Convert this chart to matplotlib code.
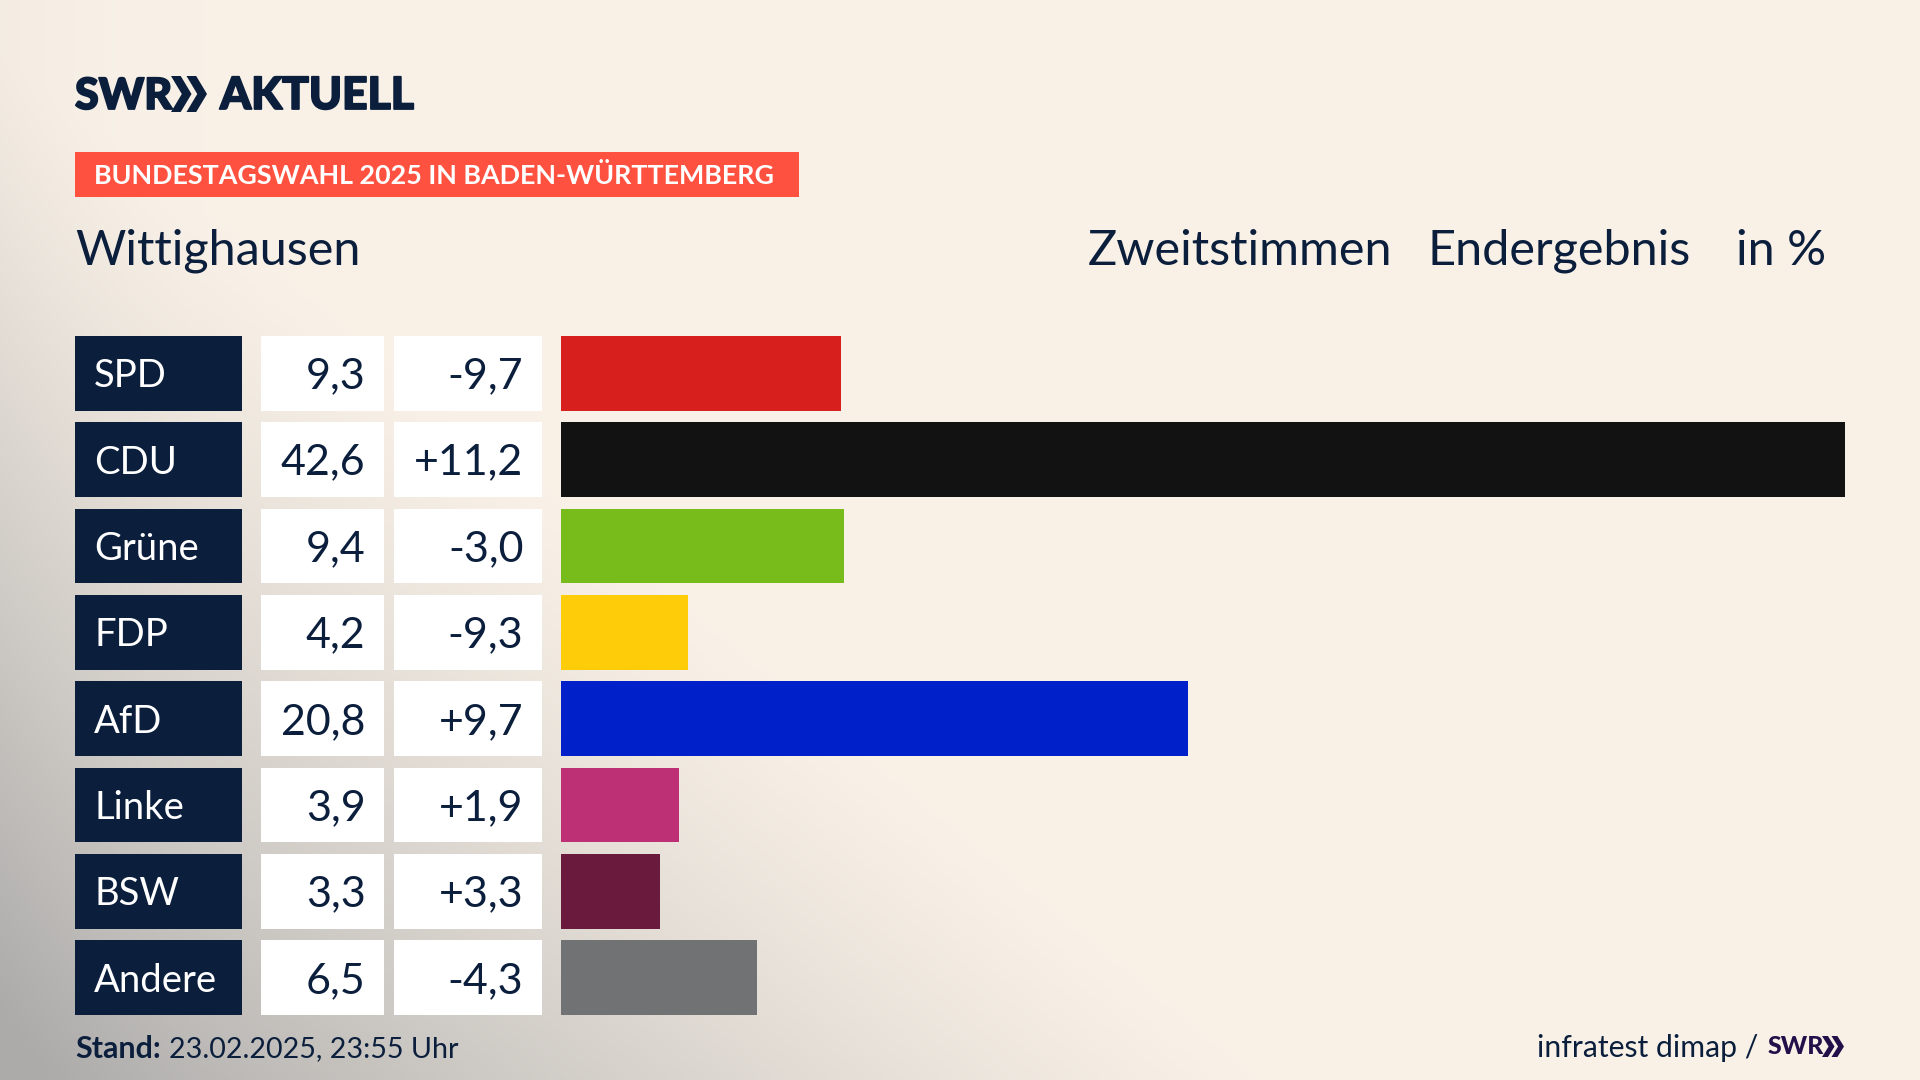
import numpy as np
import matplotlib
matplotlib.use("Agg")
import matplotlib.pyplot as plt
from matplotlib.patches import Rectangle, Polygon
import matplotlib.patheffects as pe

parties = ["SPD", "CDU", "Grüne", "FDP", "AfD", "Linke", "BSW", "Andere"]
shares = [9.3, 42.6, 9.4, 4.2, 20.8, 3.9, 3.3, 6.5]
share_labels = ["9,3", "42,6", "9,4", "4,2", "20,8", "3,9", "3,3", "6,5"]
diff_labels = ["-9,7", "+11,2", "-3,0", "-9,3", "+9,7", "+1,9", "+3,3", "-4,3"]
colors = ["#D71F1D", "#121212", "#78BC1B", "#FFCC09", "#0021C9", "#BD3075", "#691A3D", "#717274"]

NAVY = "#0B1F3D"
FONT = "Lato"
W, H = 1920, 1080
fig = plt.figure(figsize=(19.2, 10.8), dpi=100)

# background
bg = fig.add_axes([0, 0, 1, 1], zorder=0)
yy, xx = np.mgrid[0:H:270j, 0:W:480j]
cream = np.array([249, 241, 231]) / 255
grey = np.array([172, 171, 170]) / 255
s = np.clip(1 - xx / 1250 - (H - yy) / 1030, 0, 1)
t = s ** 1.15
left = np.clip(1 - xx / 200, 0, 1) ** 2 * 0.07
t = np.clip(t + left, 0, 1)[..., None]
bg.imshow(cream * (1 - t) + grey * t, extent=[0, W, H, 0], aspect="auto", interpolation="bilinear")
bg.set_xlim(0, W); bg.set_ylim(H, 0); bg.axis("off")

# pixel overlay
ov = fig.add_axes([0, 0, 1, 1], zorder=1)
ov.set_xlim(0, W); ov.set_ylim(H, 0); ov.axis("off"); ov.patch.set_alpha(0)

def chevrons(x, y, h, width, color):
    thick = width * 0.27
    tip = width * 0.57
    off = width - tip
    for k in range(2):
        x0 = x + k * off
        ov.add_patch(Polygon([(x0, y), (x0 + thick, y), (x0 + tip, y + h / 2),
                              (x0 + thick, y + h), (x0, y + h), (x0 + tip - thick, y + h / 2)],
                             closed=True, fc=color, ec="none"))

bold_fx = [pe.withStroke(linewidth=1.3, foreground=NAVY)]
# logo
ov.text(75, 96, "SWR", fontsize=31, fontweight="black", family="Lato", color=NAVY, va="center", ha="left", path_effects=bold_fx)
chevrons(171, 76, 36, 36, NAVY)
ov.text(220, 96, "AKTUELL", fontsize=32, fontweight="black", family="Lato", color=NAVY, va="center", ha="left", path_effects=bold_fx)

# banner
ov.add_patch(Rectangle((75, 152), 724, 45, fc="#FF513F", ec="none"))
ov.text(94, 176, "BUNDESTAGSWAHL 2025 IN BADEN-WÜRTTEMBERG", fontsize=19.4, fontweight="bold",
        family=FONT, color="white", va="center", ha="left")

# header
hdr = dict(fontsize=35, family=FONT, color=NAVY, va="center")
ov.text(75, 251, "Wittighausen", ha="left", **hdr)
ov.text(1088, 251, "Zweitstimmen", ha="left", **hdr)
ov.text(1427, 251, "Endergebnis", ha="left", **hdr)
ov.text(1826, 251, "in %", ha="right", **hdr)

# rows
n = len(parties)
top, pitch, rh = 336.0, 86.35, 74.7
for i in range(n):
    y = top + i * pitch
    ov.add_patch(Rectangle((75, y), 167, rh, fc=NAVY, ec="none"))
    ov.add_patch(Rectangle((261, y), 123, rh, fc="white", ec="none"))
    ov.add_patch(Rectangle((394, y), 148, rh, fc="white", ec="none"))
    cy = y + rh / 2 + 3
    ov.text(94, cy, parties[i], fontsize=27.5, family=FONT, color="white", va="center", ha="left")
    ov.text(365.5, cy, share_labels[i], fontsize=31, family=FONT, color=NAVY, va="center", ha="right")
    ov.text(523.5, cy, diff_labels[i], fontsize=31, family=FONT, color=NAVY, va="center", ha="right")

# bars
bx0, bx1 = 561, 1845
y0, y1 = top, top + (n - 1) * pitch + rh
ax = fig.add_axes([bx0 / W, 1 - y1 / H, (bx1 - bx0) / W, (y1 - y0) / H], zorder=2)
ax.patch.set_alpha(0)
ax.barh(range(n), shares, height=rh / pitch, color=colors, linewidth=0)
ax.set_xlim(0, max(shares))
ax.set_ylim(n - 1 + (rh / pitch) / 2, -(rh / pitch) / 2)
ax.axis("off")

# footer
ov.text(75, 1049, "Stand:", fontsize=22, fontweight="bold", family=FONT, color=NAVY, va="center", ha="left")
ov.text(169, 1049, "23.02.2025, 23:55 Uhr", fontsize=20.6, family=FONT, color=NAVY, va="center", ha="left")
ov.text(1758, 1048, "infratest dimap /", fontsize=21.7, family=FONT, color=NAVY, va="center", ha="right")
ov.text(1768, 1047, "SWR", fontsize=18, fontweight="black", family="Lato", color="#21104A", va="center", ha="left")
chevrons(1822, 1036, 21, 22, "#21104A")

fig.savefig("out.png", dpi=100)
